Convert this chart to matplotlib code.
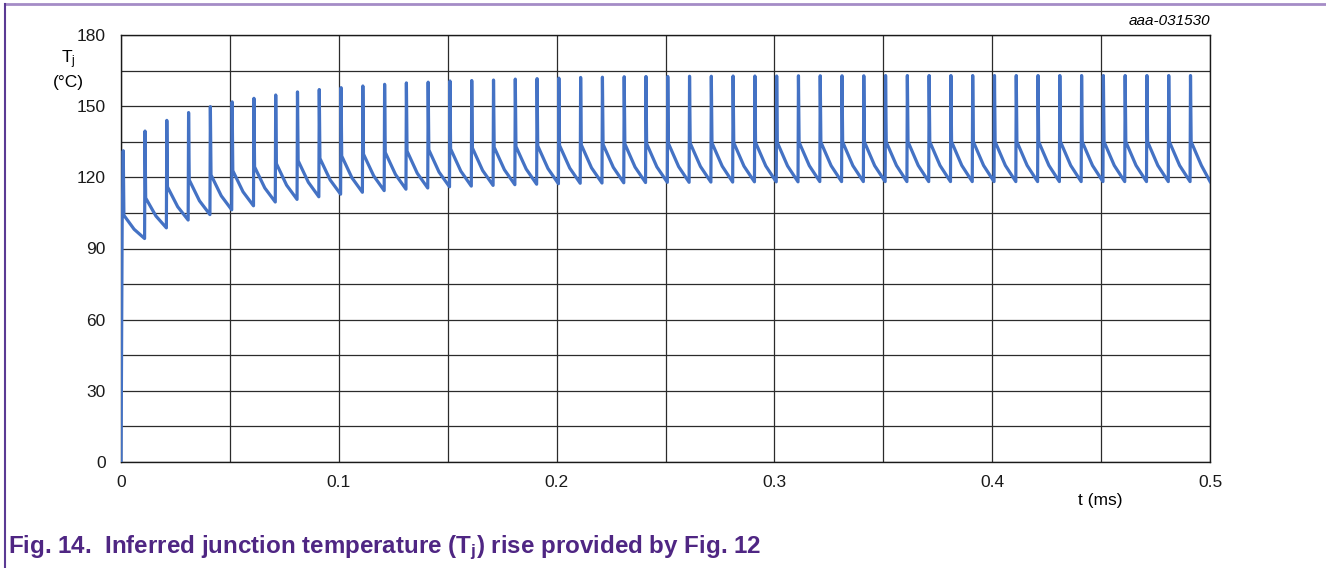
import numpy as np
import matplotlib
matplotlib.use('Agg')
import matplotlib.pyplot as plt

plt.rcParams['font.family'] = ['Liberation Sans', 'DejaVu Sans']
plt.rcParams['mathtext.fontset'] = 'custom'
plt.rcParams['mathtext.rm'] = 'Liberation Sans'
plt.rcParams['mathtext.it'] = 'Liberation Sans:italic'
plt.rcParams['mathtext.bf'] = 'Liberation Sans:bold'

# pulse timing (ms)
period = 0.01
n_pulses = 50
first_pulse = 0.001
t_end = 0.5

# junction temperature read per pulse (deg C)
peaks = [131.2, 139.5, 144.0, 147.3, 149.8, 151.8, 153.3, 154.7, 156.0, 157.0,
         157.8, 158.5, 159.2, 159.8, 160.1, 160.6, 160.8, 161.0, 161.4, 161.6,
         161.8, 162.1, 162.2, 162.4, 162.5, 162.5, 162.6, 162.6, 162.7, 162.7,
         162.7, 162.8, 162.8, 162.8, 162.8, 162.9, 162.9, 162.9, 162.9, 162.9,
         162.9, 162.9, 162.9, 162.9, 162.9, 162.9, 162.9, 162.9, 162.9, 162.9]
knees = [104.0, 111.3, 116.0, 118.9, 121.0, 122.8, 124.4, 125.8, 127.0, 128.0,
         129.0, 129.8, 130.5, 131.1, 131.6, 132.0, 132.4, 132.7, 133.0, 133.3,
         133.5, 133.7, 133.9, 134.1, 134.2, 134.3, 134.4, 134.5, 134.6, 134.7,
         134.7, 134.8, 134.8, 134.9, 134.9, 134.9, 135.0, 135.0, 135.0, 135.0,
         135.0, 135.0, 135.0, 135.0, 135.0, 135.0, 135.0, 135.0, 135.0, 135.0]
mids = [98.1, 103.7, 107.6, 110.1, 112.2, 113.9, 115.5, 116.7, 117.9, 118.9,
        119.8, 120.6, 121.2, 121.7, 122.2, 122.6, 122.9, 123.2, 123.5, 123.7,
        123.9, 124.0, 124.2, 124.3, 124.4, 124.5, 124.6, 124.7, 124.7, 124.8,
        124.8, 124.9, 124.9, 124.9, 124.9, 125.0, 125.0, 125.0, 125.0, 125.0,
        125.0, 125.0, 125.0, 125.0, 125.0, 125.0, 125.0, 125.0, 125.0, 125.0]
valleys = [94.2, 98.7, 102.0, 104.3, 106.3, 108.0, 109.6, 110.7, 111.8, 112.9,
           113.7, 114.4, 115.0, 115.5, 116.0, 116.3, 116.6, 116.9, 117.1, 117.3,
           117.5, 117.6, 117.7, 117.8, 117.9, 117.9, 118.0, 118.0, 118.1, 118.1,
           118.1, 118.2, 118.2, 118.2, 118.2, 118.2, 118.2, 118.2, 118.2, 118.2,
           118.2, 118.2, 118.2, 118.2, 118.2, 118.2, 118.2, 118.2, 118.2, 118.2]
start_level = 100.0

# build the waveform: rise, spike, fast drop, slow decay
t = [0.0, 0.0, 0.0005]
T = [0.0, 0.0, start_level]
for k in range(n_pulses):
    tk = first_pulse + k * period
    t += [tk, tk + 0.0003, tk + 0.005, min(tk + period - 0.0002, t_end)]
    T += [peaks[k], knees[k], mids[k], valleys[k]]

fig = plt.figure(figsize=(13.26, 5.68), dpi=100)
ax = fig.add_axes([0.0913, 0.1866, 0.8213, 0.7518])

ax.plot(t, T, color='#4472C4', linewidth=2.3, solid_joinstyle='round', zorder=3)

ax.set_xlim(0, 0.5)
ax.set_ylim(0, 180)
ax.set_xticks([0, 0.1, 0.2, 0.3, 0.4, 0.5])
ax.set_xticklabels(['0', '0.1', '0.2', '0.3', '0.4', '0.5'])
ax.set_xticks(np.arange(0.05, 0.5, 0.1), minor=True)
ax.set_yticks([0, 30, 60, 90, 120, 150, 180])
ax.set_yticks(np.arange(15, 180, 30), minor=True)
ax.grid(True, which='both', color='#2b2b2b', linewidth=0.9)
ax.tick_params(which='both', length=0, labelsize=12.5, colors='#1a1a1a', pad=9)
ax.tick_params(axis='y', pad=11)
for s in ax.spines.values():
    s.set_color('#1a1a1a')
    s.set_linewidth(1.0)

fig.text(68 / 1326, 1 - 60 / 568, r'T$_\mathregular{j}$', fontsize=12.5, ha='center', va='center')
fig.text(68 / 1326, 1 - 83 / 568, '(°C)', fontsize=12.5, ha='center', va='center')
fig.text(1100 / 1326, 1 - 500 / 568, 't (ms)', fontsize=12.5, ha='center', va='center')
fig.text(1210 / 1326, 1 - 21 / 568, 'aaa-031530', fontsize=11, style='italic',
         ha='right', va='center')

fig.text(8 / 1326, 1 - 548 / 568,
         r'Fig. 14.  Inferred junction temperature (T$_\mathbf{j}$) rise provided by Fig. 12',
         fontsize=17.4, fontweight='bold', color='#4f2683', ha='left', va='center')

# page frame lines
fig.add_artist(plt.Line2D([5 / 1326, 1], [1 - 4 / 568, 1 - 4 / 568],
                          transform=fig.transFigure, color='#a58cc6', linewidth=2))
fig.add_artist(plt.Line2D([5 / 1326, 5 / 1326], [0, 1 - 4 / 568],
                          transform=fig.transFigure, color='#5b3a94', linewidth=1.5))

fig.savefig('out.png', dpi=100)
